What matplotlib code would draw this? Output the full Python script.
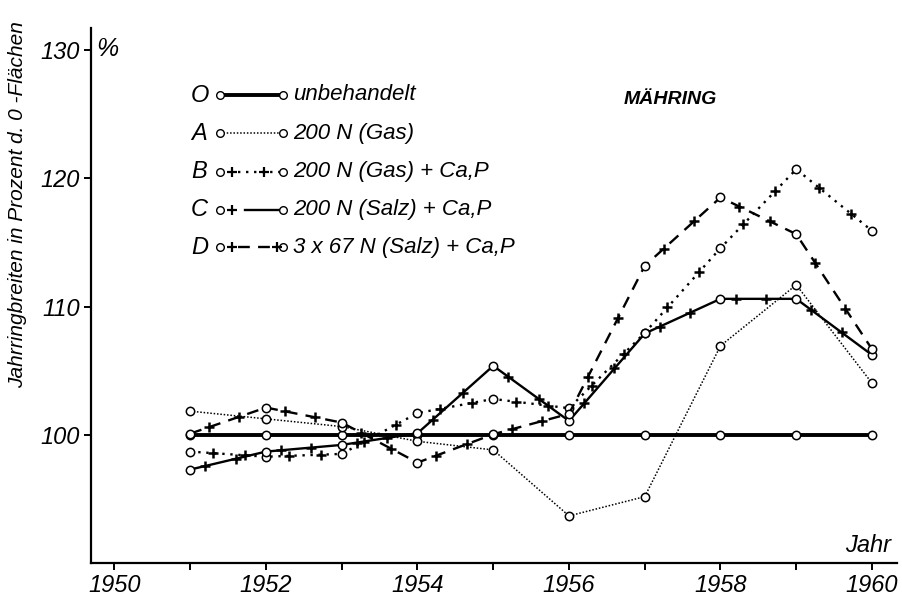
import numpy as np
import matplotlib
matplotlib.use("Agg")
import matplotlib.pyplot as plt
from matplotlib.lines import Line2D

# ---- data ----
years = [1951, 1952, 1953, 1954, 1955, 1956, 1957, 1958, 1959, 1960]
series_O = [100.0, 100.0, 100.0, 100.0, 100.0, 100.0, 100.0, 100.0, 100.0, 100.0]
series_A = [101.85, 101.25, 100.65, 99.5, 98.83, 93.69, 95.19, 106.94, 111.69, 104.03]
series_B = [98.7, 98.3, 98.52, 101.7, 102.8, 102.08, 107.95, 114.55, 120.7, 115.9]
series_C = [97.3, 98.7, 99.22, 100.13, 105.38, 101.09, 107.9, 110.6, 110.6, 106.23]
series_D = [100.1, 102.13, 100.96, 97.84, 100.05, 101.64, 113.17, 118.5, 115.64, 106.68]

legend_letters = ["O", "A", "B", "C", "D"]
legend_labels = ["unbehandelt", "200 N (Gas)", "200 N (Gas) + Ca,P",
                 "200 N (Salz) + Ca,P", "3 x 67 N (Salz) + Ca,P"]
xticks_major = [1950, 1952, 1954, 1956, 1958, 1960]
xticks_minor = [1951, 1953, 1955, 1957, 1959]
yticks = [100, 110, 120, 130]

FONT = ["Liberation Sans", "DejaVu Sans"]
plt.rcParams["font.family"] = FONT
plt.rcParams["font.style"] = "italic"

W, H = 902, 599
fig = plt.figure(figsize=(W / 100, H / 100), dpi=100)
ax = fig.add_axes([91 / W, 1 - 563 / H, (897 - 91) / W, (563 - 28) / H])
ax.set_xlim(1949.69, 1960.33)
ax.set_ylim(90.02, 131.7)

for s in ("top", "right"):
    ax.spines[s].set_visible(False)
for s in ("left", "bottom"):
    ax.spines[s].set_linewidth(1.6)

ax.set_xticks(xticks_major)
ax.set_xticks(xticks_minor, minor=True)
ax.set_xticklabels([str(v) for v in xticks_major])
ax.set_yticks(yticks)
ax.set_yticklabels([str(v) for v in yticks])
ax.tick_params(axis="both", which="both", direction="out", width=1.4, length=5,
               labelsize=17, pad=3)
for lab in ax.get_xticklabels() + ax.get_yticklabels():
    lab.set_style("italic")

circ = dict(marker="o", markersize=6, markerfacecolor="white",
            markeredgecolor="black", markeredgewidth=1.1)

x = np.array(years, dtype=float)

def plus_marks(ys, ts):
    ys = np.asarray(ys, dtype=float)
    px, py = [], []
    for i in range(len(x) - 1):
        for t in ts:
            px.append(x[i] + t * (x[i + 1] - x[i]))
            py.append(ys[i] + t * (ys[i + 1] - ys[i]))
    ax.plot(px, py, linestyle="none", marker="+", markersize=7,
            markeredgewidth=1.8, color="black", zorder=4)

# O
ax.plot(x, series_O, color="black", linewidth=2.8, zorder=3, **circ)
# A
ax.plot(x, series_A, color="black", linewidth=1.1, linestyle=(0, (1, 1.2)),
        zorder=3, **circ)
# B
ax.plot(x, series_B, color="black", linewidth=1.7, linestyle=(0, (1, 2.4)),
        zorder=3, **circ)
plus_marks(series_B, [0.3, 0.72])
# C
ax.plot(x, series_C, color="black", linewidth=1.7, linestyle="-",
        zorder=3, **circ)
plus_marks(series_C, [0.2, 0.6])
# D
ax.plot(x, series_D, color="black", linewidth=1.7, linestyle=(0, (5, 3.5)),
        zorder=3, **circ)
plus_marks(series_D, [0.25, 0.65])

# ---- manual legend (figure pixel positions) ----
def fx(px):
    return px / W

def fy(py):
    return 1 - py / H

rows = [95, 133, 172, 210, 247]
styles = [
    dict(lw=2.8, ls="-", plus=[]),
    dict(lw=1.1, ls=(0, (1, 1.2)), plus=[]),
    dict(lw=1.7, ls=(0, (1, 2.4)), plus=[232, 264]),
    dict(lw=1.7, ls="-", plus=[232]),
    dict(lw=1.7, ls=(0, (5, 3.5)), plus=[232, 277]),
]
for row, letter, label, st in zip(rows, legend_letters, legend_labels, styles):
    fig.text(fx(191), fy(row), letter, fontsize=17, style="italic",
             ha="left", va="center")
    x0, x1 = 220, 283
    if st["plus"] and letter == "C":
        lx0 = 245
    elif st["plus"]:
        lx0 = 238
    else:
        lx0 = x0
    fig.add_artist(Line2D([fx(lx0), fx(x1)], [fy(row), fy(row)],
                          transform=fig.transFigure, color="black",
                          linewidth=st["lw"], linestyle=st["ls"]))
    for cxp in (x0, x1):
        fig.add_artist(Line2D([fx(cxp)], [fy(row)], transform=fig.transFigure,
                              linestyle="none", marker="o", markersize=5.5,
                              markerfacecolor="white", markeredgecolor="black",
                              markeredgewidth=1.0))
    for pxp in st["plus"]:
        fig.add_artist(Line2D([fx(pxp)], [fy(row)], transform=fig.transFigure,
                              linestyle="none", marker="+", markersize=6.5,
                              markeredgewidth=1.6, color="black"))
    fig.text(fx(293), fy(row), label, fontsize=16, style="italic",
             ha="left", va="center")

fig.text(fx(624), fy(100), "MÄHRING", fontsize=14, style="italic",
         fontweight="bold", ha="left", va="center")
fig.text(fx(96), fy(49), "%", fontsize=18, style="italic", ha="left",
         va="center")
fig.text(fx(868), fy(545), "Jahr", fontsize=17, style="italic", ha="center",
         va="center")
fig.text(fx(18), fy(205), "Jahrringbreiten in Prozent d. 0 -Flächen",
         fontsize=15, style="italic", rotation=90, ha="center", va="center")

fig.savefig("out.png", dpi=100, facecolor="white")
